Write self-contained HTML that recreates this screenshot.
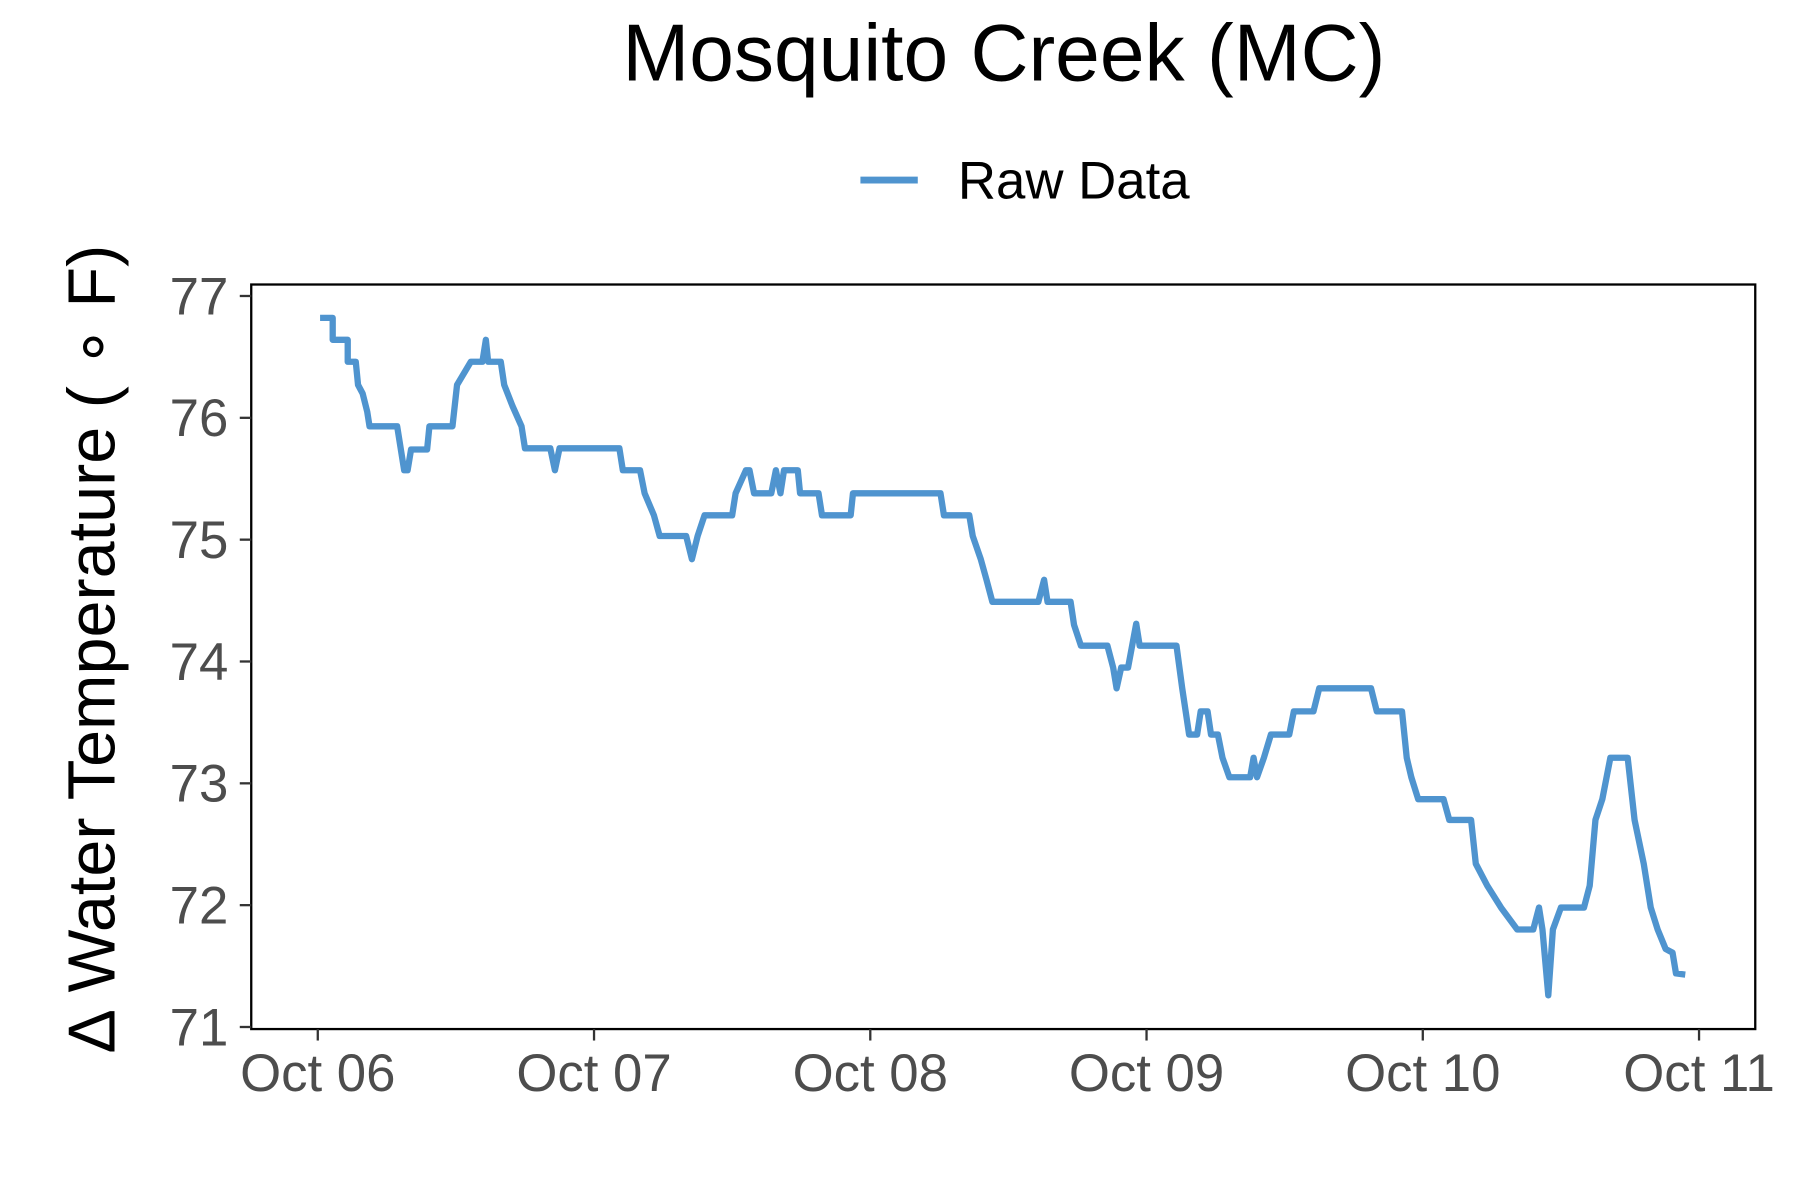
<!DOCTYPE html>
<html><head><meta charset="utf-8"><style>html,body{margin:0;padding:0;background:#fff}svg{display:block}</style></head>
<body>
<svg id="chart" width="1800" height="1200" viewBox="0 0 1569 1046" xmlns="http://www.w3.org/2000/svg" font-family="Liberation Sans, Arial, sans-serif">
<rect width="1569" height="1046" fill="#fff"/>
<text x="875" y="70" font-size="70" text-anchor="middle" fill="#000">Mosquito Creek (MC)</text>
<g>
<line x1="750" y1="157" x2="800" y2="157" stroke="#4f94cf" stroke-width="6"/>
<text x="835" y="173" font-size="46" fill="#000">Raw Data</text>
</g>
<text transform="translate(100,565) rotate(-90)" font-size="58" text-anchor="middle" fill="#000">∆ Water Temperature ( ∘ F)</text>
<rect x="219" y="248" width="1311" height="649" fill="none" stroke="#000" stroke-width="2"/>
<g id="yaxis"></g>
<g id="xaxis"></g>
<g id="series"></g>
</svg>
<script>
const yTicks = [71,72,73,74,75,76,77];
const xTickLabels = ["Oct 06","Oct 07","Oct 08","Oct 09","Oct 10","Oct 11"];
const xTickDays = [0,1,2,3,4,5];
const hours = [0.2,1.3,1.3,2.6,2.6,3.3,3.5,3.9,4.3,4.5,6.9,7.5,7.8,8.1,9.5,9.7,11.7,12.1,13.3,14.3,14.6,14.8,15.9,16.2,16.9,17.7,18.0,20.2,20.6,21.0,26.2,26.5,28.0,28.4,29.2,29.7,32.0,32.5,33.0,33.6,36.0,36.3,37.2,37.5,37.9,39.4,39.8,40.2,40.5,41.7,41.9,43.5,43.8,46.3,46.5,54.1,54.4,56.6,56.9,57.6,58.1,58.6,62.6,63.1,63.4,65.4,65.7,66.3,68.6,69.1,69.4,69.8,70.4,71.1,71.4,74.6,75.1,75.4,75.7,76.4,76.7,77.3,77.6,78.2,78.6,79.2,81.0,81.3,81.6,82.2,82.8,84.4,84.8,86.5,87.0,91.5,92.0,94.2,94.6,95.0,95.6,97.8,98.3,100.2,100.6,101.6,102.8,104.2,105.6,106.1,106.4,106.9,107.3,108.0,110.0,110.5,111.0,111.6,112.3,113.8,114.4,115.2,115.8,116.4,117.1,117.7,118.0,118.8];
const temps = [76.82,76.82,76.64,76.64,76.46,76.46,76.27,76.2,76.05,75.93,75.93,75.57,75.57,75.74,75.74,75.93,75.93,76.27,76.46,76.46,76.64,76.46,76.46,76.27,76.1,75.93,75.75,75.75,75.57,75.75,75.75,75.57,75.57,75.38,75.2,75.03,75.03,74.84,75.03,75.2,75.2,75.38,75.57,75.57,75.38,75.38,75.57,75.38,75.57,75.57,75.38,75.38,75.2,75.2,75.38,75.38,75.2,75.2,75.03,74.84,74.67,74.49,74.49,74.67,74.49,74.49,74.3,74.13,74.13,73.95,73.78,73.95,73.95,74.31,74.13,74.13,73.78,73.59,73.4,73.4,73.59,73.59,73.4,73.4,73.21,73.05,73.05,73.21,73.05,73.21,73.4,73.4,73.59,73.59,73.78,73.78,73.59,73.59,73.21,73.05,72.87,72.87,72.7,72.7,72.34,72.16,71.98,71.8,71.8,71.98,71.8,71.26,71.8,71.98,71.98,72.16,72.7,72.87,73.21,73.21,72.7,72.34,71.98,71.8,71.64,71.61,71.44,71.43];
const NS='http://www.w3.org/2000/svg';
const x0=277, pxPerDay=240.8, yTop=258, pxPerUnit=106.2;
function xScale(h){return x0+h/24*pxPerDay;}
function xDay(d){return x0+d*pxPerDay;}
function yScale(v){return yTop+(77-v)*pxPerUnit;}
const ya=document.getElementById('yaxis'), xa=document.getElementById('xaxis'), se=document.getElementById('series');
yTicks.forEach(t=>{
  const y=yScale(t);
  const l=document.createElementNS(NS,'line');
  l.setAttribute('x1',209);l.setAttribute('x2',219);l.setAttribute('y1',y);l.setAttribute('y2',y);
  l.setAttribute('stroke','#333');l.setAttribute('stroke-width',2);
  
  
  ya.appendChild(l);
  const tx=document.createElementNS(NS,'text');
  tx.setAttribute('x',199);tx.setAttribute('y',y+16);tx.setAttribute('text-anchor','end');
  tx.setAttribute('font-size',46);tx.setAttribute('fill','#4d4d4d');tx.textContent=t;
  
  
  ya.appendChild(tx);
});
xTickDays.forEach((d,i)=>{
  const x=xDay(d);
  const l=document.createElementNS(NS,'line');
  l.setAttribute('x1',x);l.setAttribute('x2',x);l.setAttribute('y1',897);l.setAttribute('y2',907);
  l.setAttribute('stroke','#333');l.setAttribute('stroke-width',2);
  
  
  xa.appendChild(l);
  const tx=document.createElementNS(NS,'text');
  tx.setAttribute('x',x);tx.setAttribute('y',951);tx.setAttribute('text-anchor','middle');
  tx.setAttribute('font-size',46);tx.setAttribute('fill','#4d4d4d');tx.textContent=xTickLabels[i];
  
  
  xa.appendChild(tx);
});
const pl=document.createElementNS(NS,'polyline');
pl.setAttribute('points',hours.map((h,i)=>xScale(h).toFixed(1)+','+yScale(temps[i]).toFixed(1)).join(' '));
pl.setAttribute('fill','none');pl.setAttribute('stroke','#4f94cf');pl.setAttribute('stroke-width',5.5);
pl.setAttribute('stroke-linejoin','round');


se.appendChild(pl);
</script>
</body></html>
